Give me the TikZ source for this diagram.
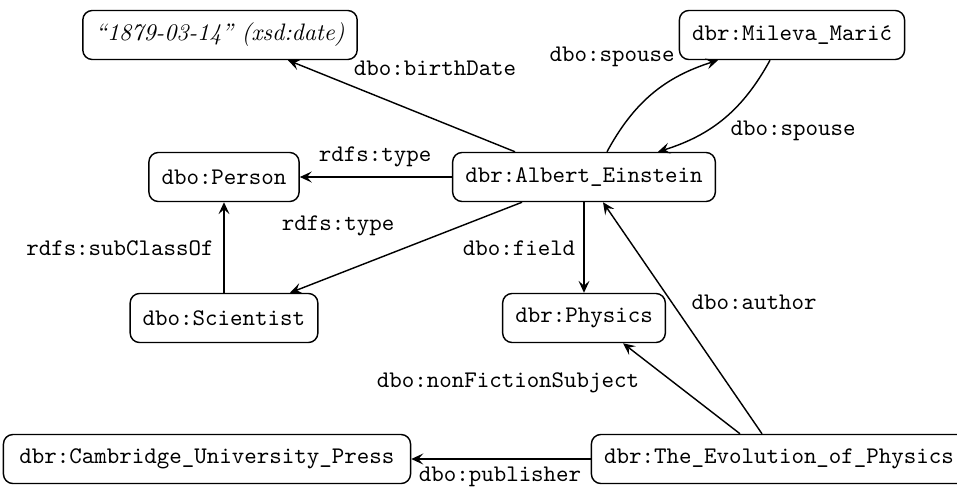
\documentclass[tikz,border=0pt]{standalone}
\usepackage{fontspec}
\usetikzlibrary{arrows.meta,calc}
\begin{document}
\begin{tikzpicture}[x=0.42pt,y=-0.42pt,
  res/.style={draw,rounded corners=4pt,font=\ttfamily,minimum height=20.6pt,
              inner xsep=5.3pt,line width=0.6pt},
  lbl/.style={font=\ttfamily,inner sep=0pt},
  link/.style={-{Stealth[length=5pt,width=4.6pt,inset=2pt]},line width=0.6pt}]
\useasboundingbox (0,0) rectangle (957,486);

% resources
\node[res] (date)  at (220,35)  {\itshape\rmfamily “1879-03-14” (xsd:date)};
\node[res] (mil)   at (792,35)  {dbr:Mileva\_Marić};
\node[res] (pers)  at (224,177) {dbo:Person};
\node[res] (ein)   at (584,177) {dbr:Albert\_Einstein};
\node[res] (sci)   at (224,318) {dbo:Scientist};
\node[res] (phys)  at (584,318) {dbr:Physics};
\node[res,minimum width=171pt] (cup) at (207,459) {dbr:Cambridge\_University\_Press};
\node[res] (evo)   at (779,459) {dbr:The\_Evolution\_of\_Physics};

% properties
\draw[link] ($(ein.north)+(-69,0)$) -- ($(date.south)+(68,0)$);
\draw[link] ($(ein.north)+(23,0)$) to[bend left=22] ($(mil.south)+(-74,0)$);
\draw[link] ($(mil.south)+(-22,0)$) to[bend left=22] ($(ein.north)+(74,0)$);
\draw[link] (ein.west) -- (pers.east);
\draw[link] ($(ein.south)+(-62,0)$) -- ($(sci.north)+(66,0)$);
\draw[link] (sci.north) -- (pers.south);
\draw[link] (ein.south) -- (phys.north);
\draw[link] ($(evo.north)+(-17,0)$) -- ($(ein.south)+(19,0)$);
\draw[link] ($(evo.north)+(-39,0)$) -- ($(phys.south)+(39,0)$);
\draw[link] (evo.west) -- (cup.east);

% property labels
\node[lbl] (l1)  at (435,68)  {dbo:birthDate};
\node[lbl] (l2)  at (612,57)  {dbo:spouse};
\node[lbl] (l3)  at (793,131) {dbo:spouse};
\node[lbl] (l4)  at (375,157) {rdfs:type};
\node[lbl] (l5)  at (338,226) {rdfs:type};
\node[lbl] (l6)  at (120,248) {rdfs:subClassOf};
\node[lbl] (l7)  at (519,248) {dbo:field};
\node[lbl] (l8)  at (754,302) {dbo:author};
\node[lbl] (l9)  at (508,383) {dbo:nonFictionSubject};
\node[lbl] (l10) at (500,477) {dbo:publisher};
\end{tikzpicture}
\end{document}
